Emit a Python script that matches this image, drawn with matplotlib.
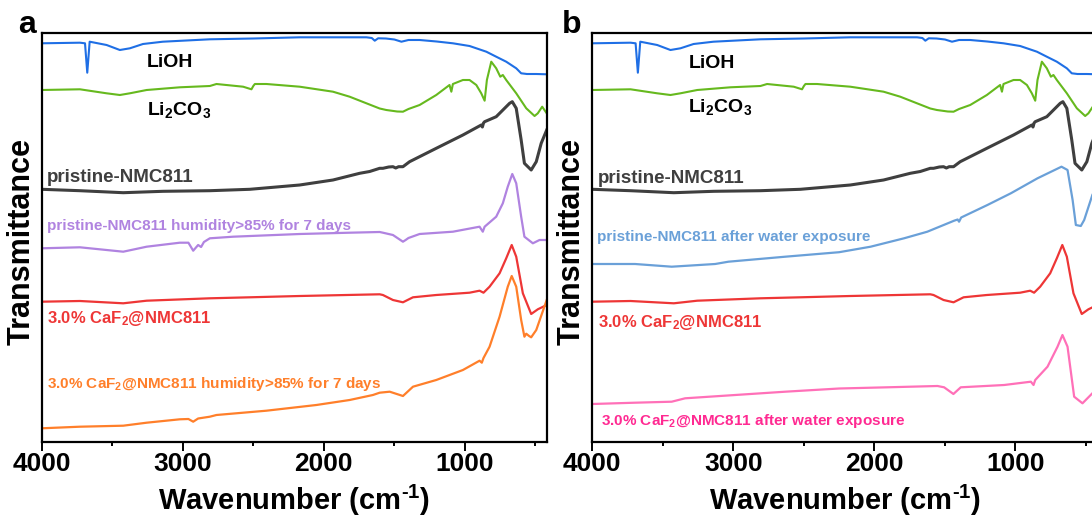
import matplotlib
matplotlib.use("Agg")
import matplotlib.pyplot as plt
from matplotlib.ticker import MultipleLocator, FixedLocator

plt.rcParams['font.family'] = ['Liberation Sans', 'DejaVu Sans']
plt.rcParams['font.weight'] = 'bold'
plt.rcParams['mathtext.fontset'] = 'custom'
plt.rcParams['mathtext.rm'] = 'Liberation Sans:bold'
plt.rcParams['mathtext.bf'] = 'Liberation Sans:bold'
plt.rcParams['mathtext.it'] = 'Liberation Sans:bold'

# ---- FTIR spectra (wavenumber in cm-1, transmittance in offset a.u.) ----
lioh_wn = [4000, 3729, 3693, 3677, 3660, 3540, 3446, 3375, 3282, 3141, 2808, 2500,
           2171, 1800, 1698, 1660, 1639, 1615, 1560, 1500, 1450, 1400, 1321, 1200,
           1085, 967, 848, 778, 707, 636, 601, 560, 494, 420]
lioh_t = [398.7, 399.3, 398.7, 369.3, 400.3, 397.0, 392.0, 393.7, 398.0, 400.3, 402.7,
          403.5, 404.7, 404.7, 404.7, 404.0, 401.3, 403.7, 403.5, 402.5, 400.3, 402.0,
          402.0, 400.5, 398.7, 396.0, 390.3, 385.3, 380.3, 373.7, 368.7, 368.0, 368.0, 367.7]

li2co3_wn = [4000, 3729, 3540, 3446, 3375, 3256, 3021, 2808, 2761, 2572, 2513, 2500,
             2489, 2407, 2171, 1935, 1817, 1698, 1604, 1557, 1480, 1439, 1400, 1321,
             1203, 1109, 1096, 1085, 1014, 967, 919, 884, 860, 844, 813, 778, 749, 731,
             707, 636, 565, 506, 483, 452, 420]
li2co3_t = [352.0, 352.7, 348.7, 347.0, 348.7, 352.0, 354.7, 356.0, 358.0, 355.3, 352.7,
            356.0, 358.0, 358.0, 355.3, 350.3, 345.3, 338.7, 333.5, 332.0, 330.5, 330.3,
            333.0, 337.0, 347.0, 357.0, 350.3, 358.0, 362.0, 362.0, 357.0, 348.7, 341.3,
            362.0, 380.3, 373.7, 365.3, 367.0, 362.0, 348.7, 333.7, 326.0, 328.7, 335.3, 328.7]

pristine_wn = [4000, 3729, 3422, 3139, 2808, 2525, 2171, 1935, 1746, 1675, 1604, 1581,
               1540, 1510, 1490, 1470, 1439, 1392, 1203, 1014, 884, 876, 868, 860, 778,
               683, 664, 636, 601, 578, 530, 494, 459, 420]
pristine_t = [252.7, 251.3, 249.3, 250.7, 251.3, 252.7, 257.0, 262.0, 268.7, 270.5, 273.7,
              273.7, 275.0, 275.3, 274.0, 275.3, 275.3, 280.3, 293.7, 307.0, 317.0, 315.0,
              319.0, 320.3, 325.3, 338.7, 340.3, 333.7, 302.0, 278.7, 272.0, 280.3, 298.7, 312.0]

humid_wn = [4000, 3729, 3422, 3256, 3021, 2960, 2926, 2891, 2870, 2850, 2808, 2643,
            2171, 1817, 1604, 1581, 1510, 1439, 1420, 1400, 1321, 1085, 896, 873, 860,
            778, 731, 696, 664, 636, 601, 578, 518, 471, 420]
humid_t = [193.7, 194.7, 190.3, 195.3, 199.3, 199.3, 191.3, 197.0, 195.0, 200.0, 203.7,
           205.3, 208.0, 209.3, 210.0, 209.3, 207.0, 200.3, 202.0, 204.0, 208.0, 210.3,
           215.3, 210.3, 215.3, 225.3, 238.7, 255.3, 268.0, 258.7, 225.3, 205.3, 198.7,
           202.0, 202.0]

caf2_wn = [4000, 3729, 3422, 3256, 2808, 2525, 2171, 1604, 1581, 1510, 1439, 1368,
           1203, 967, 896, 868, 825, 754, 707, 668, 636, 589, 530, 483, 420]
caf2_t = [140.3, 141.0, 138.7, 141.3, 143.7, 144.7, 146.0, 147.7, 147.0, 142.0, 139.7,
          144.7, 147.0, 149.3, 151.3, 149.3, 155.3, 168.7, 183.7, 197.0, 185.3, 148.7,
          128.0, 132.7, 137.0]

caf2_humid_wn = [4000, 3729, 3422, 3256, 3021, 2960, 2926, 2891, 2808, 2761, 2407, 2053,
                 1817, 1652, 1604, 1533, 1439, 1368, 1203, 1014, 896, 880, 868, 825, 754,
                 696, 668, 636, 601, 578, 565, 545, 530, 494, 420]
caf2_humid_t = [13.7, 15.3, 16.3, 19.3, 22.7, 23.0, 20.3, 23.5, 25.3, 27.0, 31.3, 37.0,
                42.0, 47.0, 49.3, 50.3, 46.0, 55.3, 62.0, 72.0, 81.3, 79.3, 84.0, 95.3,
                125.3, 155.3, 166.0, 155.3, 122.0, 105.3, 108.3, 106.0, 104.7, 112.0, 142.0]

water_wn = [4000, 3697, 3437, 3129, 3035, 2632, 2250, 2027, 1790, 1625, 1435, 1410,
            1400, 1385, 1199, 1033, 844, 674, 631, 595, 572, 537, 513, 455]
water_t = [178.0, 178.0, 175.3, 178.0, 180.3, 185.3, 189.8, 195.3, 203.7, 210.3, 221.3,
           222.5, 220.3, 224.5, 237.0, 248.7, 263.7, 275.3, 272.0, 242.0, 217.0, 216.0,
           222.0, 247.0]

caf2_water_wn = [4000, 3697, 3437, 3342, 2987, 2632, 2250, 1908, 1553, 1506, 1440, 1388,
                 1080, 891, 872, 860, 773, 702, 667, 631, 584, 525, 455]
caf2_water_t = [38.0, 39.3, 40.3, 43.7, 47.0, 50.3, 53.5, 54.7, 56.0, 54.7, 48.0, 54.7,
                57.0, 60.3, 57.0, 62.0, 75.3, 95.3, 107.0, 95.3, 45.3, 38.7, 48.7]

C_LIOH = '#1f6fe5'
C_LI2CO3 = '#66b91e'
C_PRIS = '#3f3f3f'
C_HUMID = '#b083e0'
C_CAF2 = '#ee3636'
C_CAF2_HUMID = '#ff7f2a'
C_WATER = '#6aa0d8'
C_CAF2_WATER = '#ff70b8'
C_CAF2_WATER_TXT = '#ff2a92'

W, H = 1092, 517
fig = plt.figure(figsize=(W / 100, H / 100), dpi=100)


def px_axes(left, top, width, height):
    return fig.add_axes([left / W, (H - top - height) / H, width / W, height / H])


ax_a = px_axes(41.7, 33, 505, 409)
ax_b = px_axes(592.3, 33, 505, 409)


def style(ax):
    ax.set_xlim(4000, 420)
    ax.set_ylim(0, 409)
    ax.xaxis.set_major_locator(FixedLocator([4000, 3000, 2000, 1000]))
    ax.xaxis.set_minor_locator(MultipleLocator(500))
    ax.tick_params(axis='x', which='major', direction='out', length=6.5, width=1.4,
                   labelsize=19, pad=1)
    ax.tick_params(axis='x', which='minor', direction='out', length=3.2, width=1.4)
    ax.set_yticks([])
    for sp in ax.spines.values():
        sp.set_linewidth(1.6)
    for lab in ax.get_xticklabels():
        lab.set_fontweight('bold')
    ax.text(0.5, -0.099, 'Wavenumber (cm$^{\u20101}$)', transform=ax.transAxes,
            ha='center', va='top', fontsize=21, fontweight='bold')
    ax.text(-0.04, 0.489, 'Transmittance', transform=ax.transAxes, rotation=90,
            ha='center', va='center', fontsize=22, fontweight='bold')


for ax in (ax_a, ax_b):
    style(ax)
    ax.plot(lioh_wn, lioh_t, color=C_LIOH, lw=1.5)
    ax.plot(li2co3_wn, li2co3_t, color=C_LI2CO3, lw=1.5)
    ax.plot(pristine_wn, pristine_t, color=C_PRIS, lw=2.2)
    ax.plot(caf2_wn, caf2_t, color=C_CAF2, lw=1.6)

# panel a: humidity-aged samples
ax_a.plot(humid_wn, humid_t, color=C_HUMID, lw=1.6)
ax_a.plot(caf2_humid_wn, caf2_humid_t, color=C_CAF2_HUMID, lw=1.6)

ax_a.text(3256, 374.7, 'LiOH', fontsize=14, fontweight='bold', color='black')
ax_a.text(3256, 326.5, r'Li$_2$CO$_3$', fontsize=14, fontweight='bold', color='black')
ax_a.text(3965, 260, 'pristine-NMC811', fontsize=13.5, fontweight='bold', color=C_PRIS)
ax_a.text(3965, 212, 'pristine-NMC811 humidity>85% for 7 days', fontsize=11,
          fontweight='bold', color=C_HUMID)
ax_a.text(3965, 118.7, r'3.0% CaF$_2$@NMC811', fontsize=12, fontweight='bold', color=C_CAF2)
ax_a.text(3965, 53.7, r'3.0% CaF$_2$@NMC811 humidity>85% for 7 days', fontsize=11,
          fontweight='bold', color=C_CAF2_HUMID)

# panel b: water-exposed samples
ax_b.plot(water_wn, water_t, color=C_WATER, lw=1.6)
ax_b.plot(caf2_water_wn, caf2_water_t, color=C_CAF2_WATER, lw=1.6)

ax_b.text(3319, 374, 'LiOH', fontsize=14, fontweight='bold', color='black')
ax_b.text(3319, 330, r'Li$_2$CO$_3$', fontsize=14, fontweight='bold', color='black')
ax_b.text(3962, 259, 'pristine-NMC811', fontsize=13.5, fontweight='bold', color=C_PRIS)
ax_b.text(3969, 201, 'pristine-NMC811 after water exposure', fontsize=11,
          fontweight='bold', color=C_WATER)
ax_b.text(3957, 115.3, r'3.0% CaF$_2$@NMC811', fontsize=12, fontweight='bold', color=C_CAF2)
ax_b.text(3938, 17, r'3.0% CaF$_2$@NMC811 after water exposure', fontsize=11,
          fontweight='bold', color=C_CAF2_WATER_TXT)

# panel letters
fig.text(18 / W, 1 - 33.3 / H, 'a', fontsize=23, fontweight='bold', va='baseline')
fig.text(562 / W, 1 - 33.3 / H, 'b', fontsize=23, fontweight='bold', va='baseline')

fig.savefig('out.png', dpi=100)
